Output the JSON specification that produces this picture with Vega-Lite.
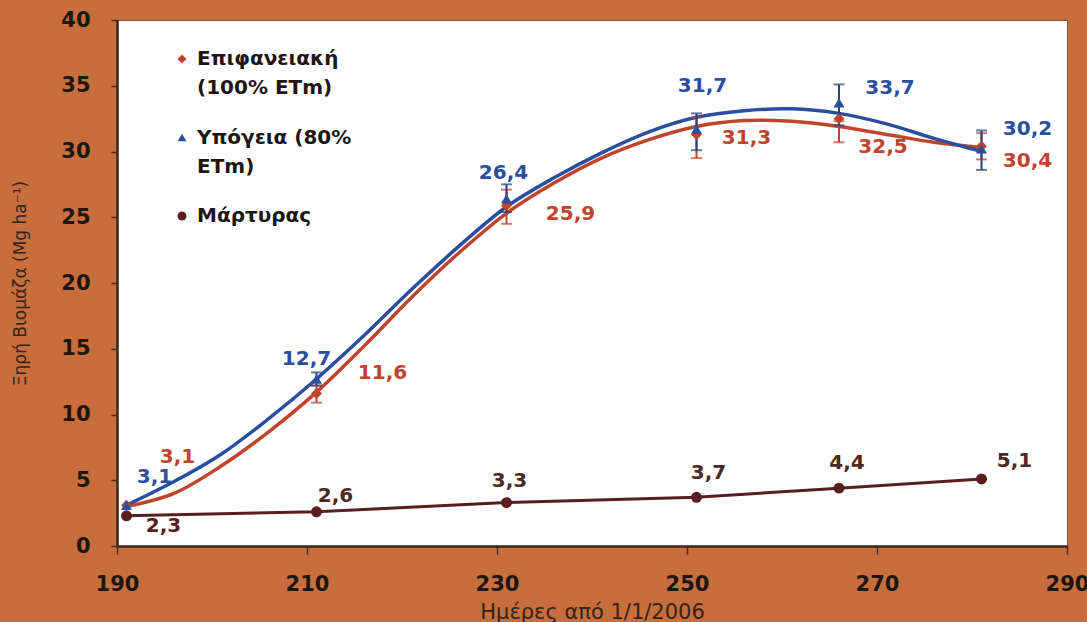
{
  "$schema": "https://vega.github.io/schema/vega-lite/v6.json",
  "width": 950,
  "height": 526,
  "autosize": {"type": "none"},
  "padding": {"left": 117, "top": 20, "right": 20, "bottom": 76},
  "background": "#c76e3c",
  "config": {
    "locale": {"number": {"decimal": ",", "thousands": ".", "grouping": [3], "currency": ["", " €"]}},
    "view": {"fill": "white", "stroke": "#6e5a50", "strokeWidth": 1},
    "font": "DejaVu Sans",
    "style": {"guide-label": {"lineHeight": 29, "dy": 6}},
    "axis": {"grid": false, "domainColor": "#3d2416", "domainWidth": 2.5, "tickColor": "#4a2c1c", "tickWidth": 1.5,
      "labelFont": "DejaVu Sans", "labelFontWeight": "bold", "labelFontSize": 21, "labelColor": "#1c1714", "labelFlush": false,
      "titleFont": "DejaVu Sans", "titleColor": "#35241a"},
    "axisY": {"labelPadding": 21, "tickSize": 6, "labelOffset": -6},
    "axisX": {"labelPadding": 13, "tickSize": 8}
  },
  "datasets": {
    "pts": [
      {"series": "Επιφανειακή (100% ETm)", "day": 191, "value": 3.1, "lo": null, "hi": null},
      {"series": "Επιφανειακή (100% ETm)", "day": 211, "value": 11.6, "lo": 10.9, "hi": 12.2},
      {"series": "Επιφανειακή (100% ETm)", "day": 231, "value": 25.9, "lo": 24.5, "hi": 27.1},
      {"series": "Επιφανειακή (100% ETm)", "day": 251, "value": 31.3, "lo": 29.5, "hi": 32.6},
      {"series": "Επιφανειακή (100% ETm)", "day": 266, "value": 32.5, "lo": 30.7, "hi": 32.3},
      {"series": "Επιφανειακή (100% ETm)", "day": 281, "value": 30.4, "lo": 29.4, "hi": 31.4},
      {"series": "Υπόγεια (80% ETm)", "day": 191, "value": 3.1, "lo": null, "hi": null},
      {"series": "Υπόγεια (80% ETm)", "day": 211, "value": 12.7, "lo": 12.2, "hi": 13.2},
      {"series": "Υπόγεια (80% ETm)", "day": 231, "value": 26.4, "lo": 25.4, "hi": 27.5},
      {"series": "Υπόγεια (80% ETm)", "day": 251, "value": 31.7, "lo": 30.1, "hi": 32.9},
      {"series": "Υπόγεια (80% ETm)", "day": 266, "value": 33.7, "lo": 32.0, "hi": 35.1},
      {"series": "Υπόγεια (80% ETm)", "day": 281, "value": 30.2, "lo": 28.6, "hi": 31.6},
      {"series": "Μάρτυρας", "day": 191, "value": 2.3, "lo": null, "hi": null},
      {"series": "Μάρτυρας", "day": 211, "value": 2.6, "lo": null, "hi": null},
      {"series": "Μάρτυρας", "day": 231, "value": 3.3, "lo": null, "hi": null},
      {"series": "Μάρτυρας", "day": 251, "value": 3.7, "lo": null, "hi": null},
      {"series": "Μάρτυρας", "day": 266, "value": 4.4, "lo": null, "hi": null},
      {"series": "Μάρτυρας", "day": 281, "value": 5.1, "lo": null, "hi": null}
    ],
    "curve": [
      {"series": "Επιφανειακή (100% ETm)", "day": 191, "value": 3.0},
      {"series": "Επιφανειακή (100% ETm)", "day": 196, "value": 4.0},
      {"series": "Επιφανειακή (100% ETm)", "day": 201, "value": 6.1},
      {"series": "Επιφανειακή (100% ETm)", "day": 206, "value": 8.7},
      {"series": "Επιφανειακή (100% ETm)", "day": 211, "value": 11.7},
      {"series": "Επιφανειακή (100% ETm)", "day": 216, "value": 15.2},
      {"series": "Επιφανειακή (100% ETm)", "day": 221, "value": 18.9},
      {"series": "Επιφανειακή (100% ETm)", "day": 226, "value": 22.3},
      {"series": "Επιφανειακή (100% ETm)", "day": 231, "value": 25.3},
      {"series": "Επιφανειακή (100% ETm)", "day": 236, "value": 27.6},
      {"series": "Επιφανειακή (100% ETm)", "day": 241, "value": 29.5},
      {"series": "Επιφανειακή (100% ETm)", "day": 246, "value": 30.9},
      {"series": "Επιφανειακή (100% ETm)", "day": 251, "value": 31.9},
      {"series": "Επιφανειακή (100% ETm)", "day": 256, "value": 32.35},
      {"series": "Επιφανειακή (100% ETm)", "day": 261, "value": 32.3},
      {"series": "Επιφανειακή (100% ETm)", "day": 266, "value": 31.9},
      {"series": "Επιφανειακή (100% ETm)", "day": 271, "value": 31.3},
      {"series": "Επιφανειακή (100% ETm)", "day": 276, "value": 30.7},
      {"series": "Επιφανειακή (100% ETm)", "day": 281, "value": 30.3},
      {"series": "Υπόγεια (80% ETm)", "day": 191, "value": 3.1},
      {"series": "Υπόγεια (80% ETm)", "day": 196, "value": 4.9},
      {"series": "Υπόγεια (80% ETm)", "day": 201, "value": 7.0},
      {"series": "Υπόγεια (80% ETm)", "day": 206, "value": 9.7},
      {"series": "Υπόγεια (80% ETm)", "day": 211, "value": 12.7},
      {"series": "Υπόγεια (80% ETm)", "day": 216, "value": 16.0},
      {"series": "Υπόγεια (80% ETm)", "day": 221, "value": 19.5},
      {"series": "Υπόγεια (80% ETm)", "day": 226, "value": 22.8},
      {"series": "Υπόγεια (80% ETm)", "day": 231, "value": 25.8},
      {"series": "Υπόγεια (80% ETm)", "day": 236, "value": 28.0},
      {"series": "Υπόγεια (80% ETm)", "day": 241, "value": 29.9},
      {"series": "Υπόγεια (80% ETm)", "day": 246, "value": 31.5},
      {"series": "Υπόγεια (80% ETm)", "day": 251, "value": 32.6},
      {"series": "Υπόγεια (80% ETm)", "day": 256, "value": 33.1},
      {"series": "Υπόγεια (80% ETm)", "day": 261, "value": 33.25},
      {"series": "Υπόγεια (80% ETm)", "day": 266, "value": 32.9},
      {"series": "Υπόγεια (80% ETm)", "day": 271, "value": 32.1},
      {"series": "Υπόγεια (80% ETm)", "day": 276, "value": 31.0},
      {"series": "Υπόγεια (80% ETm)", "day": 281, "value": 30.0}
    ]
  },
  "encoding": {
    "x": {"field": "day", "type": "quantitative",
      "scale": {"domain": [190, 290], "nice": false, "zero": false},
      "axis": {"values": [190, 210, 230, 250, 270, 290], "tickSize": 8, "labelPadding": 13,
        "title": "Ημέρες από 1/1/2006", "titleFontSize": 21, "titleFontWeight": "normal", "titleY": 66, "titleBaseline": "middle"}},
    "y": {"field": "value", "type": "quantitative",
      "scale": {"domain": [0, 40], "nice": false},
      "axis": {"values": [0, 5, 10, 15, 20, 25, 30, 35, 40], "tickSize": 6, "labelPadding": 21, "labelOffset": -6,
        "title": "Ξηρή Βιομάζα (Mg ha⁻¹)", "titleFontSize": 17, "titleFontWeight": "normal", "titleX": -97, "titleBaseline": "middle"}}
  },
  "layer": [
    {
      "data": {"name": "curve"},
      "mark": {"type": "line", "interpolate": "catmull-rom", "strokeWidth": 3.5},
      "encoding": {
        "stroke": {"field": "series", "type": "nominal", "legend": null,
          "scale": {"domain": ["Επιφανειακή (100% ETm)", "Υπόγεια (80% ETm)"], "range": ["#c0442c", "#2b4f9e"]}}
      }
    },
    {
      "data": {"name": "pts"},
      "transform": [{"filter": "datum.series == 'Μάρτυρας'"}],
      "mark": {"type": "line", "strokeWidth": 3, "color": "#5a1e1e"},
      "encoding": {}
    },
    {
      "data": {"name": "pts"},
      "transform": [{"filter": "datum.series == 'Επιφανειακή (100% ETm)' && datum.lo != null"}],
      "mark": {"type": "errorbar", "color": "#c0442c", "thickness": 2, "ticks": {"size": 11, "thickness": 2}},
      "encoding": {"y": {"field": "lo", "type": "quantitative"}, "y2": {"field": "hi"}}
    },
    {
      "data": {"name": "pts"},
      "transform": [{"filter": "datum.series == 'Υπόγεια (80% ETm)' && datum.lo != null"}],
      "mark": {"type": "errorbar", "color": "#27437e", "thickness": 2, "ticks": {"size": 11, "thickness": 2}},
      "encoding": {"y": {"field": "lo", "type": "quantitative"}, "y2": {"field": "hi"}}
    },
    {
      "data": {"name": "pts"},
      "mark": {"type": "point", "filled": true, "opacity": 1, "size": 120},
      "encoding": {
        "color": {"field": "series", "type": "nominal",
          "scale": {"domain": ["Επιφανειακή (100% ETm)", "Υπόγεια (80% ETm)", "Μάρτυρας"], "range": ["#c0442c", "#2b4f9e", "#5a1e1e"]},
          "legend": {"title": null, "orient": "none", "legendX": 55, "legendY": 29,
            "labelFont": "DejaVu Sans", "labelFontWeight": "bold", "labelFontSize": 20, "labelColor": "#1c1714",
            "labelLimit": 400, "symbolSize": 80, "labelOffset": 5, "rowPadding": 29.5, "labelBaseline": "alphabetic",
            "labelExpr": "datum.label == 'Επιφανειακή (100% ETm)' ? ['Επιφανειακή', '(100% ETm)'] : datum.label == 'Υπόγεια (80% ETm)' ? ['Υπόγεια (80%', 'ETm)'] : datum.label"}},
        "shape": {"field": "series", "type": "nominal",
          "scale": {"domain": ["Επιφανειακή (100% ETm)", "Υπόγεια (80% ETm)", "Μάρτυρας"], "range": ["diamond", "triangle-up", "circle"]},
          "legend": {"title": null, "orient": "none", "legendX": 55, "legendY": 29,
            "labelFont": "DejaVu Sans", "labelFontWeight": "bold", "labelFontSize": 20, "labelColor": "#1c1714",
            "labelLimit": 400, "symbolSize": 80, "labelOffset": 5, "rowPadding": 29.5, "labelBaseline": "alphabetic",
            "labelExpr": "datum.label == 'Επιφανειακή (100% ETm)' ? ['Επιφανειακή', '(100% ETm)'] : datum.label == 'Υπόγεια (80% ETm)' ? ['Υπόγεια (80%', 'ETm)'] : datum.label"}}
      }
    },
    {"data": {"name": "pts"}, "transform": [{"filter": "datum.series == 'Επιφανειακή (100% ETm)' && datum.day == 191"}], "mark": {"type": "text", "dx": 51, "dy": -48, "fontSize": 20, "fontWeight": "bold", "color": "#c0442c"}, "encoding": {"text": {"field": "value", "type": "quantitative", "format": ".1f"}}},
    {"data": {"name": "pts"}, "transform": [{"filter": "datum.series == 'Επιφανειακή (100% ETm)' && datum.day == 211"}], "mark": {"type": "text", "dx": 66, "dy": -20, "fontSize": 20, "fontWeight": "bold", "color": "#c0442c"}, "encoding": {"text": {"field": "value", "type": "quantitative", "format": ".1f"}}},
    {"data": {"name": "pts"}, "transform": [{"filter": "datum.series == 'Επιφανειακή (100% ETm)' && datum.day == 231"}], "mark": {"type": "text", "dx": 64, "dy": 9, "fontSize": 20, "fontWeight": "bold", "color": "#c0442c"}, "encoding": {"text": {"field": "value", "type": "quantitative", "format": ".1f"}}},
    {"data": {"name": "pts"}, "transform": [{"filter": "datum.series == 'Επιφανειακή (100% ETm)' && datum.day == 251"}], "mark": {"type": "text", "dx": 50, "dy": 4, "fontSize": 20, "fontWeight": "bold", "color": "#c0442c"}, "encoding": {"text": {"field": "value", "type": "quantitative", "format": ".1f"}}},
    {"data": {"name": "pts"}, "transform": [{"filter": "datum.series == 'Επιφανειακή (100% ETm)' && datum.day == 266"}], "mark": {"type": "text", "dx": 44, "dy": 28, "fontSize": 20, "fontWeight": "bold", "color": "#c0442c"}, "encoding": {"text": {"field": "value", "type": "quantitative", "format": ".1f"}}},
    {"data": {"name": "pts"}, "transform": [{"filter": "datum.series == 'Επιφανειακή (100% ETm)' && datum.day == 281"}], "mark": {"type": "text", "dx": 46, "dy": 15, "fontSize": 20, "fontWeight": "bold", "color": "#c0442c"}, "encoding": {"text": {"field": "value", "type": "quantitative", "format": ".1f"}}},
    {"data": {"name": "pts"}, "transform": [{"filter": "datum.series == 'Υπόγεια (80% ETm)' && datum.day == 191"}], "mark": {"type": "text", "dx": 28, "dy": -28, "fontSize": 20, "fontWeight": "bold", "color": "#2b4f9e"}, "encoding": {"text": {"field": "value", "type": "quantitative", "format": ".1f"}}},
    {"data": {"name": "pts"}, "transform": [{"filter": "datum.series == 'Υπόγεια (80% ETm)' && datum.day == 211"}], "mark": {"type": "text", "dx": -10, "dy": -20, "fontSize": 20, "fontWeight": "bold", "color": "#2b4f9e"}, "encoding": {"text": {"field": "value", "type": "quantitative", "format": ".1f"}}},
    {"data": {"name": "pts"}, "transform": [{"filter": "datum.series == 'Υπόγεια (80% ETm)' && datum.day == 231"}], "mark": {"type": "text", "dx": -3, "dy": -26, "fontSize": 20, "fontWeight": "bold", "color": "#2b4f9e"}, "encoding": {"text": {"field": "value", "type": "quantitative", "format": ".1f"}}},
    {"data": {"name": "pts"}, "transform": [{"filter": "datum.series == 'Υπόγεια (80% ETm)' && datum.day == 251"}], "mark": {"type": "text", "dx": 6, "dy": -43, "fontSize": 20, "fontWeight": "bold", "color": "#2b4f9e"}, "encoding": {"text": {"field": "value", "type": "quantitative", "format": ".1f"}}},
    {"data": {"name": "pts"}, "transform": [{"filter": "datum.series == 'Υπόγεια (80% ETm)' && datum.day == 266"}], "mark": {"type": "text", "dx": 51, "dy": -15, "fontSize": 20, "fontWeight": "bold", "color": "#2b4f9e"}, "encoding": {"text": {"field": "value", "type": "quantitative", "format": ".1f"}}},
    {"data": {"name": "pts"}, "transform": [{"filter": "datum.series == 'Υπόγεια (80% ETm)' && datum.day == 281"}], "mark": {"type": "text", "dx": 46, "dy": -20, "fontSize": 20, "fontWeight": "bold", "color": "#2b4f9e"}, "encoding": {"text": {"field": "value", "type": "quantitative", "format": ".1f"}}},
    {"data": {"name": "pts"}, "transform": [{"filter": "datum.series == 'Μάρτυρας' && datum.day == 191"}], "mark": {"type": "text", "dx": 37, "dy": 10, "fontSize": 20, "fontWeight": "bold", "color": "#5a1e1e"}, "encoding": {"text": {"field": "value", "type": "quantitative", "format": ".1f"}}},
    {"data": {"name": "pts"}, "transform": [{"filter": "datum.series == 'Μάρτυρας' && datum.day == 211"}], "mark": {"type": "text", "dx": 19, "dy": -16, "fontSize": 20, "fontWeight": "bold", "color": "#4a2a22"}, "encoding": {"text": {"field": "value", "type": "quantitative", "format": ".1f"}}},
    {"data": {"name": "pts"}, "transform": [{"filter": "datum.series == 'Μάρτυρας' && datum.day == 231"}], "mark": {"type": "text", "dx": 3, "dy": -22, "fontSize": 20, "fontWeight": "bold", "color": "#4a2a22"}, "encoding": {"text": {"field": "value", "type": "quantitative", "format": ".1f"}}},
    {"data": {"name": "pts"}, "transform": [{"filter": "datum.series == 'Μάρτυρας' && datum.day == 251"}], "mark": {"type": "text", "dx": 12, "dy": -24, "fontSize": 20, "fontWeight": "bold", "color": "#4a2a22"}, "encoding": {"text": {"field": "value", "type": "quantitative", "format": ".1f"}}},
    {"data": {"name": "pts"}, "transform": [{"filter": "datum.series == 'Μάρτυρας' && datum.day == 266"}], "mark": {"type": "text", "dx": 8, "dy": -25, "fontSize": 20, "fontWeight": "bold", "color": "#4a2a22"}, "encoding": {"text": {"field": "value", "type": "quantitative", "format": ".1f"}}},
    {"data": {"name": "pts"}, "transform": [{"filter": "datum.series == 'Μάρτυρας' && datum.day == 281"}], "mark": {"type": "text", "dx": 33, "dy": -18, "fontSize": 20, "fontWeight": "bold", "color": "#4a2a22"}, "encoding": {"text": {"field": "value", "type": "quantitative", "format": ".1f"}}}
  ]
}
